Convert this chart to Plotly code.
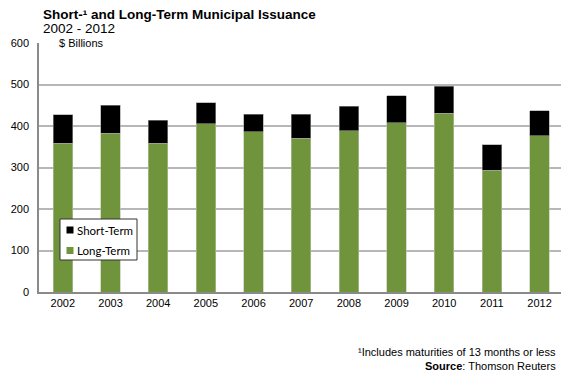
import plotly.graph_objects as go

years = ["2002", "2003", "2004", "2005", "2006", "2007", "2008", "2009", "2010", "2011", "2012"]
long_term = [358, 382, 359, 406, 386, 370, 388, 408, 431, 293, 377]
short_term = [69, 68, 55, 50, 42, 58, 60, 65, 65, 62, 60]
y_ticks = [0, 100, 200, 300, 400, 500, 600]

GREEN = "#6f943c"
FONT = "Liberation Sans, Arial, sans-serif"
LEGEND_FONT = "Lato, Liberation Sans, sans-serif"

W, H = 561, 373
ML, MR, MT, MB = 39, 0, 43, 81
plot_w = W - ML - MR
plot_h = H - MT - MB


def px_x(px):
    """Horizontal pixel -> paper fraction."""
    return (px - ML) / plot_w


def px_y(py):
    """Vertical pixel -> paper fraction."""
    return (H - MB - py) / plot_h


fig = go.Figure()
fig.add_trace(go.Bar(
    x=years, y=long_term, name="Long-Term",
    marker=dict(color=GREEN, line=dict(color="#b9c7a6", width=0.6)),
))
fig.add_trace(go.Bar(
    x=years, y=short_term, name="Short-Term",
    marker=dict(color="#000000", line=dict(color="#9a9a9a", width=0.6)),
))

fig.update_layout(
    width=W, height=H,
    barmode="stack", bargap=0.59,
    paper_bgcolor="white", plot_bgcolor="white",
    margin=dict(l=ML, r=MR, t=MT, b=MB),
    font=dict(family=FONT, size=11, color="#000000"),
    showlegend=False,
    xaxis=dict(
        type="category", range=[-0.5, 10.45],
        showline=True, linecolor="#8a8a8a", linewidth=1.5,
        ticks="", tickfont=dict(size=11), showgrid=False,
    ),
    yaxis=dict(
        range=[0, 600], tickvals=y_ticks, ticktext=[str(v) for v in y_ticks],
        showline=True, linecolor="#8a8a8a", linewidth=1.5,
        showgrid=True, gridcolor="#b7b7b7", gridwidth=1.5,
        zeroline=False, ticks="", tickfont=dict(size=11),
        ticklabelstandoff=6,
    ),
)

# compact legend box
fig.add_shape(
    type="rect", xref="paper", yref="paper",
    x0=px_x(60), x1=px_x(137), y0=px_y(260), y1=px_y(219),
    fillcolor="white", line=dict(color="#333333", width=1), layer="above",
)
legend_items = [("Short-Term", "#000000", 230), ("Long-Term", GREEN, 250.5)]
for label, color, cy in legend_items:
    fig.add_shape(
        type="rect", xref="paper", yref="paper",
        x0=px_x(66.5), x1=px_x(73.5), y0=px_y(cy + 3.5), y1=px_y(cy - 3.5),
        fillcolor=color, line=dict(width=0), layer="above",
    )
    fig.add_annotation(
        xref="paper", yref="paper", x=px_x(75), y=px_y(cy),
        xanchor="left", yanchor="middle", showarrow=False,
        text=label, font=dict(family=LEGEND_FONT, size=11.5),
    )

# title block
fig.add_annotation(
    xref="paper", yref="paper", x=px_x(41), y=px_y(14),
    xanchor="left", yanchor="middle", showarrow=False, align="left",
    text="<b>Short-¹ and Long-Term Municipal Issuance</b>",
    font=dict(family=FONT, size=13.5),
)
fig.add_annotation(
    xref="paper", yref="paper", x=px_x(41), y=px_y(28.5),
    xanchor="left", yanchor="middle", showarrow=False, align="left",
    text="2002 - 2012",
    font=dict(family=FONT, size=13.5),
)

# unit label sitting on the top gridline
fig.add_annotation(
    xref="paper", yref="y", x=0.035, y=600,
    xanchor="left", yanchor="middle", showarrow=False,
    text="$ Billions", bgcolor="white",
    font=dict(family=FONT, size=11),
)

# footnotes
fig.add_annotation(
    xref="paper", yref="paper", x=px_x(558), y=px_y(352),
    xanchor="right", yanchor="middle", showarrow=False, align="right",
    text="¹Includes maturities of 13 months or less",
    font=dict(family=FONT, size=11),
)
fig.add_annotation(
    xref="paper", yref="paper", x=px_x(558), y=px_y(366),
    xanchor="right", yanchor="middle", showarrow=False, align="right",
    text="<b>Source</b>: Thomson Reuters",
    font=dict(family=FONT, size=11),
)

fig.write_html("out.html")
